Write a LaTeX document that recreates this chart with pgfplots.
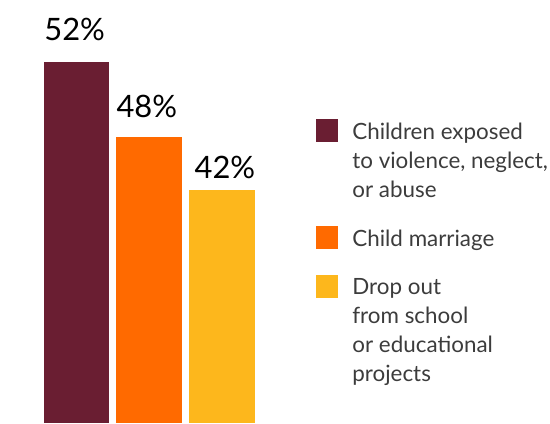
\documentclass[border=0pt]{standalone}
\usepackage{fontspec}
\setmainfont{Lato}
\usepackage{pgfplots}
\pgfplotsset{compat=1.18}
\definecolor{cMaroon}{HTML}{6A1E32}
\definecolor{cOrange}{HTML}{FF6A00}
\definecolor{cYellow}{HTML}{FDB71C}
\definecolor{txt}{HTML}{3C3C3C}
\begin{document}
\begin{tikzpicture}
\begin{axis}[
  width=550bp, height=425bp, scale only axis,
  xmin=0, xmax=550, ymin=0, ymax=60.88,
  hide axis, clip=false,
  ybar, bar width=66,
  point meta=explicit,
  /pgf/number format/assume math mode=true,
  nodes near coords={\pgfmathprintnumber{\pgfplotspointmeta}\%},
  nodes near coords style={font=\fontsize{31bp}{31bp}\selectfont, text=black, anchor=base, inner sep=0pt, yshift=21bp},
  legend style={at={(rel axis cs:0.5764,0.7176)}, anchor=north west, draw=none, fill=none,
    inner sep=0pt, outer sep=0pt, row sep=25bp, column sep=0pt,
    font=\fontsize{22.5bp}{29bp}\selectfont, text=txt,
    cells={anchor=north west, align=left, inner sep=0pt}},
  legend image code/.code={\fill[#1] (0bp,2bp) rectangle (23bp,-21bp);},
  every axis plot/.append style={bar shift=0pt, draw=none},
]
% x = bar centre, h = drawn bar height, v = value shown
\addplot[fill=cMaroon, nodes near coords style={xshift=-2bp}] table[x=x, y=h, meta=v] {
x h v
77 52 52
};
\addlegendentry{\hspace{12bp}Children exposed\\\hspace{12bp}to violence, neglect,\\\hspace{12bp}or abuse}
\addplot[fill=cOrange, nodes near coords style={xshift=-2.5bp, yshift=-1bp}] table[x=x, y=h, meta=v] {
x h v
150 41.1 48
};
\addlegendentry{\hspace{12bp}Child marriage}
\addplot[fill=cYellow, nodes near coords style={xshift=3bp, yshift=-9bp}] table[x=x, y=h, meta=v] {
x h v
223 33.5 42
};
\addlegendentry{\hspace{12bp}Drop out\\\hspace{12bp}from school\\\hspace{12bp}or educational\\\hspace{12bp}projects}
\path (rel axis cs:0,0) rectangle (rel axis cs:1,1);
\end{axis}
\end{tikzpicture}
\end{document}
